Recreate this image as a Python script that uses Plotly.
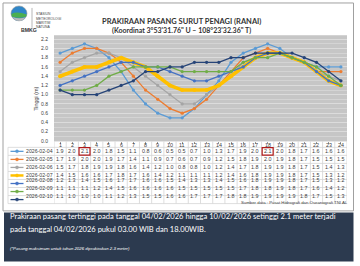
import plotly.graph_objects as go

W, H = 360, 266

hours = list(range(1, 25))
dates = ["2026-02-04", "2026-02-05", "2026-02-06", "2026-02-07",
         "2026-02-08", "2026-02-09", "2026-02-10"]
d0204 = [1.9, 2.0, 2.1, 2.0, 1.8, 1.5, 1.1, 0.8, 0.6, 0.5, 0.5, 0.7, 1.0, 1.3, 1.7, 1.9, 2.0, 2.1, 2.0, 1.8, 1.7, 1.6, 1.6, 1.6]
d0205 = [1.7, 1.9, 2.0, 2.0, 1.9, 1.7, 1.4, 1.1, 0.9, 0.7, 0.6, 0.7, 0.9, 1.2, 1.5, 1.8, 1.9, 2.0, 1.9, 1.8, 1.7, 1.5, 1.5, 1.5]
d0206 = [1.5, 1.7, 1.8, 1.9, 1.9, 1.8, 1.6, 1.4, 1.2, 1.0, 0.8, 0.8, 1.0, 1.2, 1.4, 1.7, 1.8, 1.9, 1.9, 1.8, 1.7, 1.5, 1.4, 1.3]
d0207 = [1.4, 1.5, 1.6, 1.6, 1.7, 1.8, 1.7, 1.6, 1.4, 1.2, 1.1, 1.1, 1.1, 1.2, 1.4, 1.6, 1.8, 1.9, 1.9, 1.8, 1.7, 1.5, 1.3, 1.2]
d0208 = [1.2, 1.3, 1.4, 1.5, 1.6, 1.7, 1.7, 1.6, 1.6, 1.5, 1.4, 1.3, 1.3, 1.4, 1.5, 1.6, 1.8, 1.9, 1.9, 1.8, 1.7, 1.5, 1.3, 1.2]
d0209 = [1.1, 1.1, 1.1, 1.2, 1.4, 1.5, 1.6, 1.6, 1.6, 1.6, 1.5, 1.5, 1.5, 1.5, 1.5, 1.7, 1.8, 1.8, 1.9, 1.8, 1.7, 1.6, 1.4, 1.2]
d0210 = [1.1, 1.0, 1.0, 1.0, 1.1, 1.2, 1.3, 1.5, 1.5, 1.6, 1.6, 1.7, 1.7, 1.7, 1.8, 1.8, 1.9, 1.9, 1.9, 1.9, 1.8, 1.7, 1.5, 1.3]
series = [d0204, d0205, d0206, d0207, d0208, d0209, d0210]
y_ticks = [0.0, 0.2, 0.4, 0.6, 0.8, 1.0, 1.2, 1.4, 1.6, 1.8, 2.0, 2.2]
highlight = [(0, 3), (0, 18)]  # (row index, hour) of the maxima

colors = ["#5B9BD5", "#ED7D31", "#A5A5A5", "#FFC000", "#4472C4", "#70AD47", "#264478"]
widths = [1.3, 1.3, 1.3, 3.6, 1.3, 1.3, 1.3]


def X(px):
    return px / W


def Y(py):
    return 1 - py / H


# plot area in pixels
PL, PR, PT, PB = 54, 347, 35.5, 142.5
HEAD = 146.3
ROW0, ROWSTEP = 152.5, 8.1
TEXTC = "#404040"

fig = go.Figure()
for name, vals, c, w in zip(dates, series, colors, widths):
    fig.add_trace(go.Scatter(
        x=hours, y=vals, name=name, mode="lines+markers",
        line=dict(color=c, width=w),
        marker=dict(size=3.2 if w < 2 else 4, color=c),
        showlegend=False))

shapes = []
ann = []

# outer white panel
shapes.append(dict(type="rect", xref="paper", yref="paper", x0=X(3), x1=X(353.5), y0=Y(212.5), y1=Y(3),
                   line=dict(color="#a0a0a0", width=1), fillcolor="rgba(0,0,0,0)", layer="below"))
# dark bottom panel
shapes.append(dict(type="rect", xref="paper", yref="paper", x0=X(4), x1=X(353.5), y0=Y(263.5), y1=Y(214),
                   line=dict(width=0), fillcolor="#2c3a4f", layer="below"))

# table grid
grid_c = "#d4d4d4"
table_bottom = ROW0 - ROWSTEP / 2 + 7 * ROWSTEP
for i in range(8):
    py = ROW0 - ROWSTEP / 2 + i * ROWSTEP
    shapes.append(dict(type="line", xref="paper", yref="paper", x0=X(8), x1=X(PR), y0=Y(py), y1=Y(py),
                       line=dict(color=grid_c, width=0.8)))
for k in range(25):
    shapes.append(dict(type="line", xref="x", yref="paper", x0=k + 0.5, x1=k + 0.5,
                       y0=Y(PB), y1=Y(table_bottom), line=dict(color=grid_c, width=0.8)))
shapes.append(dict(type="line", xref="paper", yref="paper", x0=X(8), x1=X(8),
                   y0=Y(ROW0 - ROWSTEP / 2), y1=Y(table_bottom), line=dict(color=grid_c, width=0.8)))

cell_font = dict(size=5.4, color=TEXTC, family="Liberation Sans")

# header row (hours)
for h in hours:
    ann.append(dict(x=h, y=Y(HEAD), xref="x", yref="paper", text=str(h), showarrow=False, borderpad=0,
                    font=cell_font))

# table cells
for r, (name, vals, c) in enumerate(zip(dates, series, colors)):
    py = ROW0 + r * ROWSTEP
    for h, v in zip(hours, vals):
        ann.append(dict(x=h, y=Y(py), xref="x", yref="paper", text=f"{v:.1f}", showarrow=False, borderpad=0,
                        font=cell_font))
    # legend key
    shapes.append(dict(type="line", xref="paper", yref="paper", x0=X(10.5), x1=X(23.5), y0=Y(py), y1=Y(py),
                       line=dict(color=c, width=1.3 if r != 3 else 2.5)))
    shapes.append(dict(type="circle", xref="paper", yref="paper", x0=X(15.5), x1=X(18.5), y0=Y(py + 1.5), y1=Y(py - 1.5),
                       line=dict(color=c, width=0.5), fillcolor=c))
    ann.append(dict(x=X(24.5), y=Y(py), xref="paper", yref="paper", text=name, showarrow=False, xanchor="left",
                    borderpad=0, font=dict(size=5.2, color=TEXTC, family="Liberation Sans")))

for r, h in highlight:
    py = ROW0 + r * ROWSTEP
    shapes.append(dict(type="rect", xref="x", yref="paper", x0=h - 0.45, x1=h + 0.45,
                       y0=Y(py + ROWSTEP / 2 - 0.3), y1=Y(py - ROWSTEP / 2 + 0.3),
                       line=dict(color="#b01818", width=1.2)))

# titles
ann.append(dict(x=X(181), y=Y(15), xref="paper", yref="paper", showarrow=False,
                text="<b>PRAKIRAAN PASANG SURUT PENAGI (RANAI)</b>",
                font=dict(size=7.5, color="#333333", family="Lato")))
ann.append(dict(x=X(181), y=Y(24.5), xref="paper", yref="paper", showarrow=False,
                text="<b>(Koordinat 3°53'31.76\" U – 108°23'32.36\" T)</b>",
                font=dict(size=7.0, color="#333333", family="Lato")))

# logo
shapes.append(dict(type="circle", xref="paper", yref="paper", x0=X(11), x1=X(27), y0=Y(21), y1=Y(6),
                   line=dict(color="#9a9a9a", width=0.6), fillcolor="#2f86c8"))
shapes.append(dict(type="path", xref="paper", yref="paper",
                   path=f"M {X(11.3)} {Y(14)} Q {X(17)} {Y(11)} {X(26.7)} {Y(14.5)} L {X(26)} {Y(17)} Q {X(19)} {Y(19)} {X(12)} {Y(17)} Z",
                   line=dict(width=0), fillcolor="#4caf50"))
shapes.append(dict(type="path", xref="paper", yref="paper",
                   path=f"M {X(12.5)} {Y(17.2)} Q {X(19)} {Y(19.5)} {X(25.7)} {Y(17.4)} Q {X(22)} {Y(21.5)} {X(19)} {Y(21)} Q {X(15)} {Y(21)} {X(12.5)} {Y(17.2)} Z",
                   line=dict(width=0), fillcolor="#b9b9b9"))
ann.append(dict(x=X(19), y=Y(25.5), xref="paper", yref="paper", showarrow=False, text="<b>BMKG</b>",
                font=dict(size=5.2, color="#333333", family="Liberation Sans")))
shapes.append(dict(type="line", xref="paper", yref="paper", x0=X(32), x1=X(32), y0=Y(8), y1=Y(28),
                   line=dict(color="#888888", width=0.6)))
for i, t in enumerate(["STASIUN", "METEOROLOGI", "MARITIM", "NATUNA"]):
    ann.append(dict(x=X(34.5), y=Y(11.5 + 4.2 * i), xref="paper", yref="paper", showarrow=False, xanchor="left",
                    borderpad=0, text=t, font=dict(size=3.4, color="#444444", family="Liberation Sans")))

# y-axis title
ann.append(dict(x=X(31.5), y=Y(100), xref="paper", yref="paper", showarrow=False, text="Tinggi (m)",
                textangle=-90, font=dict(size=5.4, color=TEXTC, family="Liberation Sans")))

# source
ann.append(dict(x=X(350), y=Y(209), xref="paper", yref="paper", showarrow=False, xanchor="right",
                text="Sumber data : Pusat Hidrografi dan Oseanografi TNI AL",
                font=dict(size=4.3, color="#444444", family="Liberation Sans")))

# bottom text
ann.append(dict(x=X(7.5), y=Y(225), xref="paper", yref="paper", showarrow=False, xanchor="left",
                text="Prakiraan pasang tertinggi pada tanggal 04/02/2026 hingga 10/02/2026 setinggi 2.1 meter terjadi",
                font=dict(size=7.55, color="white", family="Lato")))
ann.append(dict(x=X(7.5), y=Y(237.5), xref="paper", yref="paper", showarrow=False, xanchor="left",
                text="pada tanggal 04/02/2026 pukul 03.00 WIB dan 18.00WIB.",
                font=dict(size=7.55, color="white", family="Lato")))
ann.append(dict(x=X(7.5), y=Y(254.5), xref="paper", yref="paper", showarrow=False, xanchor="left",
                text="<i>(*Pasang maksimum untuk tahun 2026 diprakirakan 2.3 meter)</i>",
                font=dict(size=4.3, color="white", family="Liberation Sans")))

k = (142.0 - 39.5) / 2.2
ymin = -(PB - 142.0) / k
ymax = (142.0 - PT) / k

fig.update_layout(
    width=W, height=H, margin=dict(l=0, r=0, t=0, b=0),
    paper_bgcolor="white", plot_bgcolor="#c6c6c6",
    shapes=shapes, annotations=ann,
    xaxis=dict(domain=[X(PL), X(PR)], range=[0.5, 24.5], tickvals=hours,
               showticklabels=False, showgrid=False, zeroline=False, ticks="outside", ticklen=2,
               tickcolor="#999999", fixedrange=True),
    yaxis=dict(domain=[Y(PB), Y(PT)], range=[ymin, ymax], tickvals=y_ticks,
               ticktext=[f"{v:.1f}" for v in y_ticks], showgrid=True, gridcolor="#dcdcdc", gridwidth=0.8,
               minor=dict(dtick=0.1, tick0=0, showgrid=True, gridcolor="#d4d4d4", gridwidth=0.5),
               zeroline=False, ticks="", ticklabelstandoff=5,
               tickfont=dict(size=5.0, color=TEXTC, family="Liberation Sans"), fixedrange=True),
)

fig.write_html("out.html")
